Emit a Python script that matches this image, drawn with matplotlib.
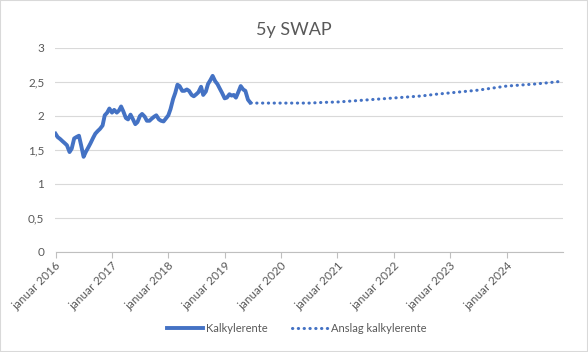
import numpy as np
import pandas as pd
import matplotlib
matplotlib.use("Agg")
import matplotlib.pyplot as plt
import matplotlib.dates as mdates
from matplotlib.patches import Rectangle

plt.rcParams['font.family'] = ['Lato', 'DejaVu Sans']

# semi-monthly history (1st and 15th), Jan 2016 - mid June 2019
hist_dates = pd.date_range('2016-01-01', '2019-06-15', freq='SMS')
hist_vals = [
    1.74, 1.69, 1.66, 1.63, 1.60, 1.57, 1.47, 1.52, 1.67, 1.69, 1.71, 1.57,
    1.40, 1.47, 1.54, 1.60, 1.68, 1.74, 1.78, 1.81, 1.86, 2.01, 2.05, 2.11,
    2.05, 2.09, 2.05, 2.08, 2.14, 2.07, 1.97, 1.95, 2.02, 1.96, 1.88, 1.91,
    2.00, 2.03, 1.99, 1.93, 1.93, 1.96, 1.99, 2.01, 1.95, 1.93, 1.92, 1.96,
    2.01, 2.10, 2.25, 2.34, 2.46, 2.44, 2.37, 2.37, 2.39, 2.37, 2.31, 2.29,
    2.32, 2.35, 2.43, 2.31, 2.36, 2.47, 2.53, 2.59, 2.51, 2.47, 2.40, 2.34,
    2.26, 2.27, 2.32, 2.30, 2.31, 2.27, 2.36, 2.44, 2.39, 2.37, 2.24, 2.20,
]

# forecast
fc_dates = pd.to_datetime([
    '2019-06-20', '2019-10-01', '2020-01-01', '2020-04-01', '2020-07-01',
    '2020-10-01', '2021-01-01', '2021-04-01', '2021-07-01', '2021-10-01',
    '2022-01-01', '2022-04-01', '2022-07-01', '2022-10-01', '2023-01-01',
    '2023-04-01', '2023-07-01', '2023-10-01', '2024-01-01', '2024-04-01',
    '2024-07-01', '2024-10-01', '2024-12-20',
])
fc_vals = [
    2.19, 2.19, 2.19, 2.19, 2.19, 2.20, 2.206, 2.22, 2.235, 2.25,
    2.265, 2.28, 2.295, 2.32, 2.34, 2.36, 2.38, 2.41, 2.44, 2.455,
    2.47, 2.49, 2.51,
]

years = list(range(2016, 2025))
xticks = [pd.Timestamp(f'{y}-01-01') for y in years]
xlabels = [f'januar {y}' for y in years]
yticks = [0, 0.5, 1, 1.5, 2, 2.5, 3]
ylabels = ['0', '0,5', '1', '1,5', '2', '2,5', '3']

blue = '#4472C4'
grey = '#595959'

fig = plt.figure(figsize=(5.88, 3.52), dpi=100)
ax = fig.add_axes([55.5 / 588, 1 - 252 / 352, (563 - 55.5) / 588, 204 / 352])

ax.plot(hist_dates, hist_vals, color=blue, lw=2.8, label='Kalkylerente',
        solid_joinstyle='round')
ax.plot(fc_dates, fc_vals, color=blue, lw=2.2, linestyle=(0, (0.1, 1.8)),
        dash_capstyle='round', label='Anslag kalkylerente')

ax.set_xlim(pd.Timestamp('2016-01-01'), pd.Timestamp('2025-01-01'))
ax.set_ylim(0, 3)
ax.set_xticks(xticks)
ax.set_xticklabels(xlabels, rotation=45, ha='right', rotation_mode='anchor',
                   fontsize=8.5, color=grey)
ax.set_yticks(yticks)
ax.set_yticklabels(ylabels, fontsize=8.5, color=grey)

ax.grid(axis='y', color='#d9d9d9', lw=0.8)
ax.set_axisbelow(True)
for s in ['top', 'right', 'left']:
    ax.spines[s].set_visible(False)
ax.spines['bottom'].set_color('#bfbfbf')
ax.tick_params(axis='y', length=0, pad=8)
ax.tick_params(axis='x', length=4, color='#bfbfbf', pad=2)

fig.text(0.5, 1 - 30 / 352, '5y SWAP', ha='center', va='center',
         fontsize=13, color=grey)

fig.legend(loc='center', bbox_to_anchor=(0.505, 1 - 328 / 352), ncol=2,
           frameon=False, fontsize=8, labelcolor=grey, handlelength=3.2,
           columnspacing=2.2, handletextpad=0.3)

fig.patches.append(Rectangle((0, 0), 1, 1, transform=fig.transFigure,
                             fill=False, edgecolor='#d9d9d9', lw=1.5))

fig.savefig('out.png', dpi=100)
